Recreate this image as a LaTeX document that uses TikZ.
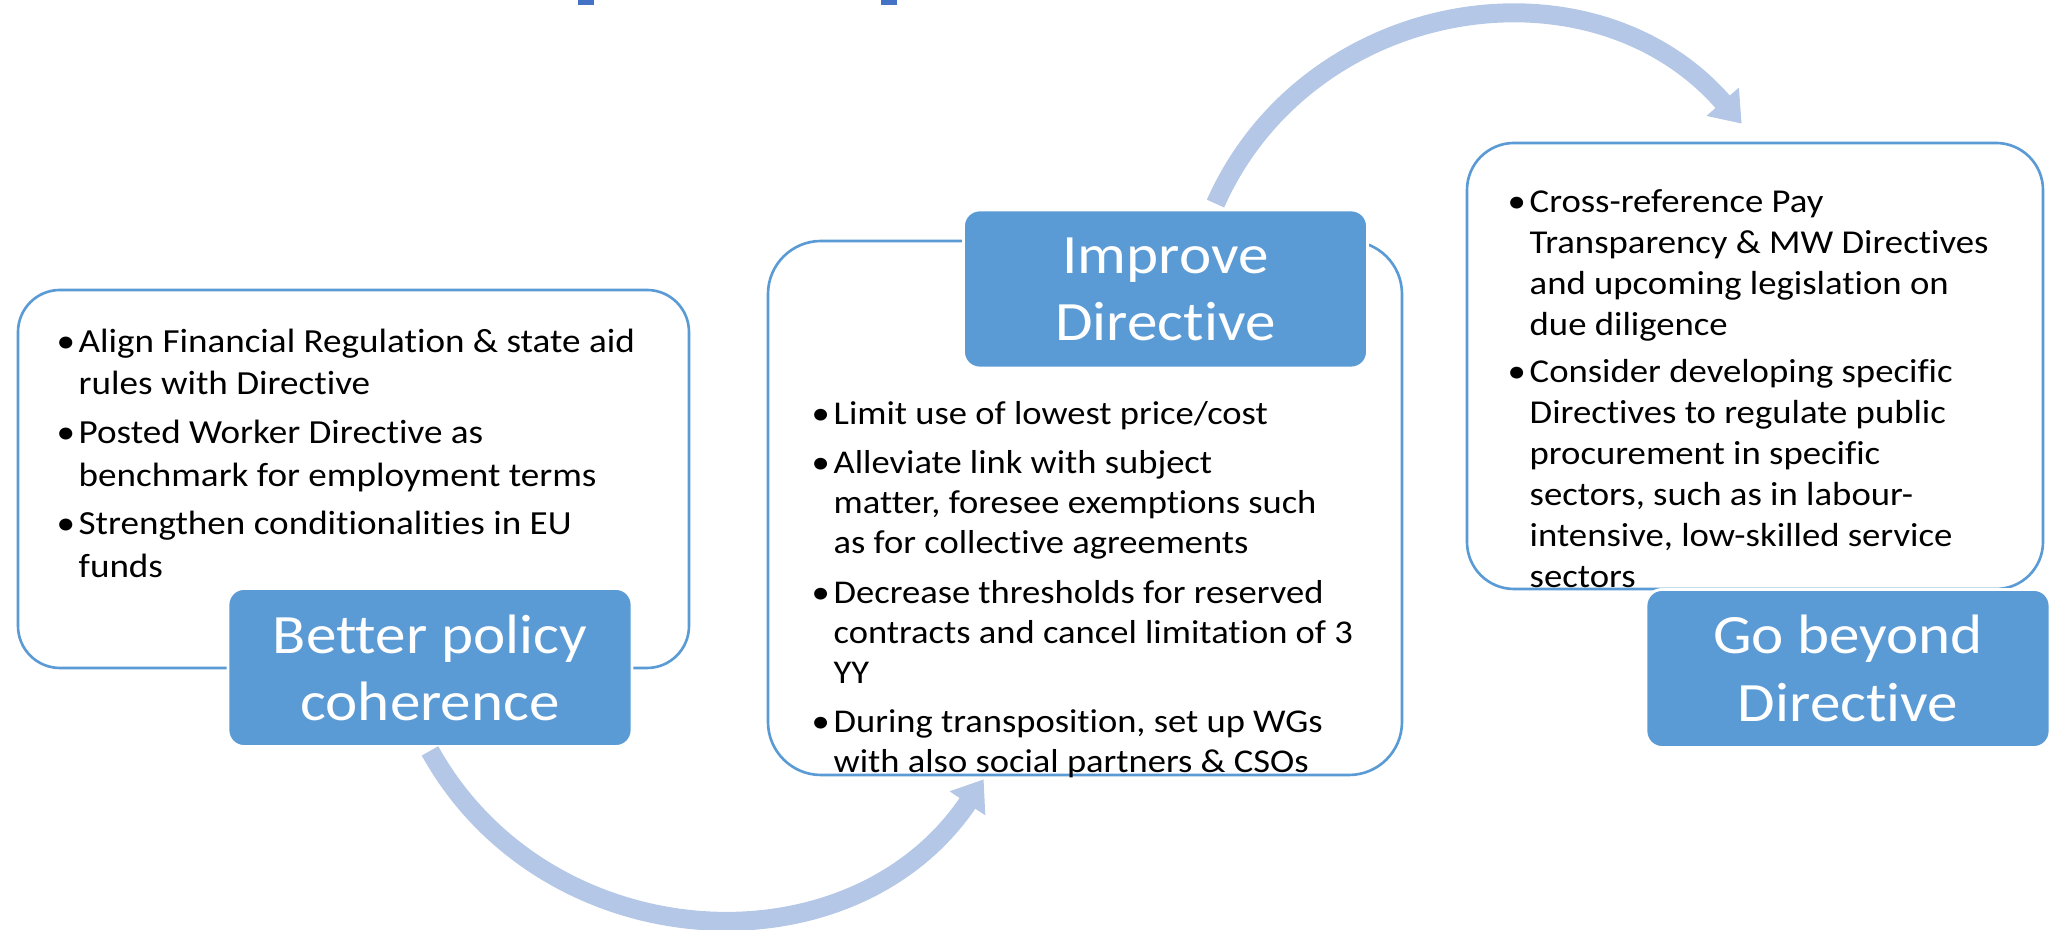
\documentclass[tikz,border=0pt]{standalone}
\usepackage{fontspec}
\setmainfont{Carlito}[FakeStretch=1.1, Ligatures=NoCommon]
\usetikzlibrary{arrows.meta}

\definecolor{accent}{HTML}{5B9BD5}
\definecolor{arrowblue}{HTML}{B4C7E7}
\definecolor{titleblue}{HTML}{4472C4}

\newcommand{\bul}{\makebox[2.2mm][l]{\textbullet}}
\newcommand{\ind}{\makebox[2.2mm]{}}

\tikzset{
  outline/.style={draw=accent, line width=0.75pt, fill=white, inner sep=0pt},
  headbox/.style={fill=accent, draw=white, line width=0.8pt, rounded corners=0.16cm,
    minimum width=4.04cm, minimum height=1.58cm, inner sep=0pt, text=white,
    align=center, font=\fontsize{15.8}{19.1}\selectfont},
  bullets/.style={anchor=north west, inner sep=0pt, align=left},
  flow/.style={arrowblue, line width=0.19cm, -{Triangle[width=0.41cm, length=0.29cm]}, looseness=1.1}
}

\begin{document}
\begin{tikzpicture}
\useasboundingbox (0,0) rectangle (20.51,9.30);

% bits of the heading, cut off at the top
\fill[titleblue] (5.78,9.25) rectangle (5.94,9.30);
\fill[titleblue] (8.81,9.25) rectangle (8.97,9.30);

\node[outline, rounded corners=0.42cm, minimum width=6.71cm, minimum height=3.78cm] (box1) at (3.535,4.51) {};
\node[outline, rounded corners=0.53cm, minimum width=6.34cm, minimum height=5.34cm] (box2) at (10.85,4.22) {};
\node[outline, rounded corners=0.47cm, minimum width=5.76cm, minimum height=4.46cm] (box3) at (17.55,5.64) {};

\node[bullets, font=\fontsize{9.6}{12.2}\selectfont] (txt1) at (0.56,6.02) {%
\bul Align Financial Regulation \& state aid\\
\ind rules with Directive\\[1.6pt]
\bul Posted Worker Directive as\\
\ind benchmark for employment terms\\[1.6pt]
\bul Strengthen conditionalities in EU\\
\ind funds};

\node[bullets, font=\fontsize{9.45}{11.38}\selectfont] (txt2) at (8.11,5.29) {%
\bul Limit use of lowest price/cost\\[2.6pt]
\bul Alleviate link with subject\\
\ind matter, foresee exemptions such\\
\ind as for collective agreements\\[2.6pt]
\bul Decrease thresholds for reserved\\
\ind contracts and cancel limitation of 3\\
\ind YY\\[2.6pt]
\bul During transposition, set up WGs\\
\ind with also social partners \& CSOs};

\node[bullets, font=\fontsize{9.5}{11.67}\selectfont] (txt3) at (15.07,7.41) {%
\bul Cross-reference Pay\\
\ind Transparency \& MW Directives\\
\ind and upcoming legislation on\\
\ind due diligence\\[1.7pt]
\bul Consider developing specific\\
\ind Directives to regulate public\\
\ind procurement in specific\\
\ind sectors, such as in labour-\\
\ind intensive, low-skilled service\\
\ind sectors};

\node[headbox] (lbl1) at (4.30,2.625) {Better policy\\coherence};
\node[headbox] (lbl2) at (11.655,6.41) {Improve\\Directive};
\node[headbox] (lbl3) at (18.48,2.615) {Go beyond\\Directive};

\draw[flow] ([yshift=-0.03cm]lbl1.south) to[out=-61, in=236] ([xshift=2.17cm, yshift=-0.03cm]box2.south west);
\draw[flow] ([xshift=0.5cm, yshift=0.05cm]lbl2.north) to[out=66, in=131] ([xshift=2.76cm, yshift=0.18cm]box3.north west);

\end{tikzpicture}
\end{document}
